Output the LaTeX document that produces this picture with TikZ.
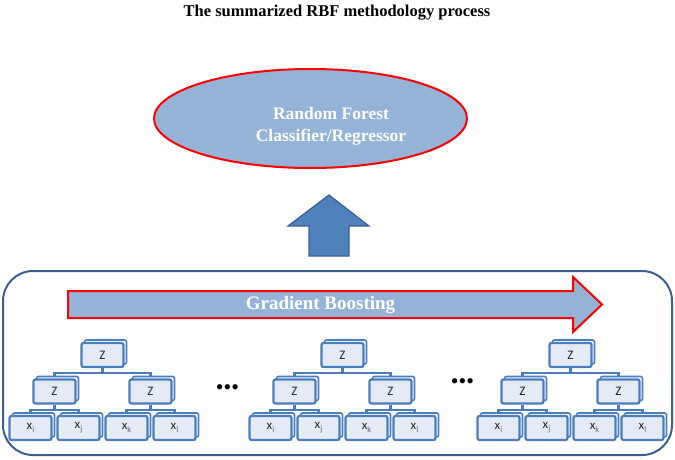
\documentclass[tikz,border=0pt]{standalone}
\usepackage{fontspec}
\setmainfont{Liberation Serif}
\newfontfamily\boxfont{Carlito}
\usetikzlibrary{shadows,backgrounds}
\definecolor{lightblue}{HTML}{95B3D7}
\definecolor{midblue}{HTML}{4F81BD}
\definecolor{darkblue}{HTML}{3A6092}
\definecolor{boxblue}{HTML}{4A7EBF}
\definecolor{boxfill}{HTML}{E4EBF5}
\definecolor{subc}{HTML}{7A5C9A}
\definecolor{redline}{HTML}{FF0000}
\tikzset{
  hbox/.style={draw=boxblue, line width=2.2pt, fill=boxfill, rounded corners=2pt,
    minimum width=42pt, minimum height=24pt, inner sep=0pt,
    font=\boxfont\fontsize{13}{14}\selectfont, text=black!85,
    copy shadow={shadow xshift=3pt, shadow yshift=3pt, fill=white, draw=boxblue, line width=1.6pt}},
  link/.style={draw=boxblue, line width=2.2pt},
  whitetext/.style={text=white, font=\bfseries\fontsize{17.5}{22}\selectfont, align=center},
  dots/.style={font=\fontsize{22}{22}\selectfont, inner sep=0pt}
}
\newcommand{\xs}[1]{x\raisebox{-0.5ex}{\fontsize{8.5}{9}\selectfont\color{subc}#1}}
\begin{document}
\begin{tikzpicture}[x=1pt,y=-1pt]
\useasboundingbox (0,0) rectangle (675,460);
% title
\node[font=\bfseries\fontsize{16.5}{18}\selectfont] (title) at (337,13) {The summarized RBF methodology process};
% ellipse
\draw[fill=lightblue, draw=redline, line width=2pt] (310.5,118.5) ellipse [x radius=156.5, y radius=49.5];
\node[whitetext] (rf) at (331,126) {Random Forest\\Classifier/Regressor};
% up block arrow
\draw[fill=midblue, draw=darkblue, line width=1.2pt]
  (329,195) -- (369,226) -- (349,226) -- (349,256) -- (309,256) -- (309,226) -- (288,226) -- cycle;
% container
\draw[draw=darkblue, line width=2pt, rounded corners=30pt] (3,271) rectangle (672,455);
% gradient boosting arrow
\draw[fill=lightblue, draw=redline, line width=2pt]
  (68,291) -- (573,291) -- (573,277) -- (602,304.5) -- (573,332) -- (573,318) -- (68,318) -- cycle;
\node[whitetext, font=\bfseries\fontsize{19}{20}\selectfont] (gb) at (320.5,305) {Gradient Boosting};
% trees
\foreach \t/\R in {1/104, 2/344, 3/572} {
  \node[hbox] (t\t r) at (\R-1.5,355) {Z};
  \node[hbox] (t\t a) at (\R-49.5,391.5) {Z};
  \node[hbox] (t\t b) at (\R+46.5,391.5) {Z};
  \node[hbox] (t\t a1) at (\R-73.5,428) {\xs{i}};
  \node[hbox] (t\t a2) at (\R-25.5,428) {\xs{j}};
  \node[hbox] (t\t b1) at (\R+22.5,428) {\xs{k}};
  \node[hbox] (t\t b2) at (\R+70.5,428) {\xs{l}};
  \begin{pgfonlayer}{background}
    \draw[link] (t\t r.south) -- ++(0,5) coordinate (t\t m);
    \draw[link] (t\t a.north) |- (t\t m) -| (t\t b.north);
    \draw[link] (t\t a.south) -- ++(0,5) coordinate (t\t am);
    \draw[link] (t\t a1.north) |- (t\t am) -| (t\t a2.north);
    \draw[link] (t\t b.south) -- ++(0,5) coordinate (t\t bm);
    \draw[link] (t\t b1.north) |- (t\t bm) -| (t\t b2.north);
  \end{pgfonlayer}
}
\node[dots] (d1) at (227.5,390) {\textbullet\textbullet\textbullet};
\node[dots] (d2) at (462.5,384) {\textbullet\textbullet\textbullet};
\end{tikzpicture}
\end{document}
